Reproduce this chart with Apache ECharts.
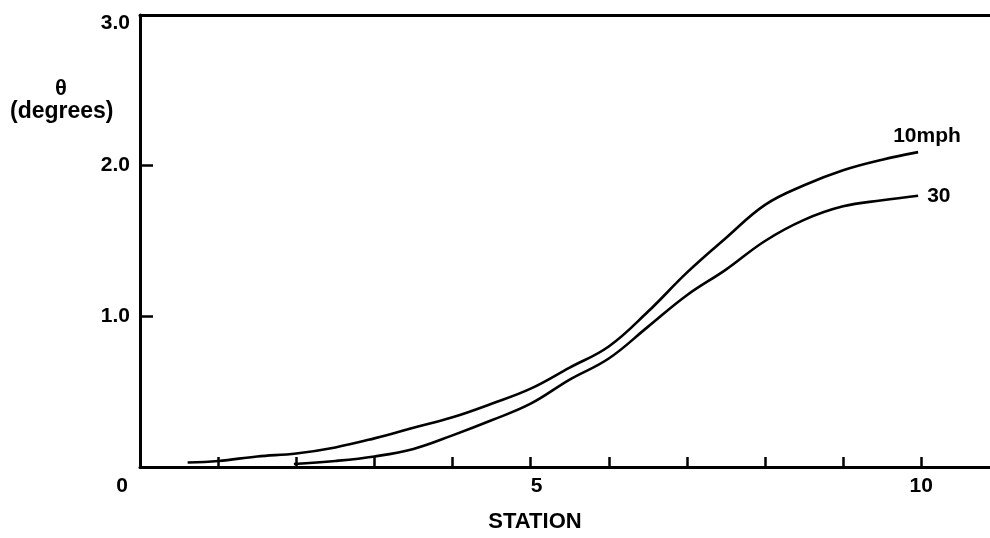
<!DOCTYPE html>
<html>
<head>
<meta charset="utf-8">
<script src="https://cdn.jsdelivr.net/npm/echarts@6/dist/echarts.min.js"></script>
<style>
html,body{margin:0;padding:0;background:#fff;}
#chart{width:990px;height:538px;}
</style>
</head>
<body>
<div id="chart"></div>
<script>
// Data
const seriesNames = ['10mph', '30'];
const stationTicks = [0, 5, 10];
const thetaTicks = ['1.0', '2.0', '3.0'];
const mph10 = [
  [0.61, 0.03], [1, 0.04], [1.5, 0.07], [2, 0.09], [2.5, 0.13], [3, 0.19],
  [3.5, 0.26], [4, 0.33], [4.5, 0.42], [5, 0.52], [5.5, 0.66], [6, 0.80],
  [6.5, 1.03], [7, 1.29], [7.5, 1.52], [8, 1.74], [8.5, 1.87], [9, 1.97],
  [9.5, 2.04], [9.96, 2.09]
];
const mph30 = [
  [1.97, 0.02], [2.5, 0.04], [3, 0.07], [3.5, 0.12], [4, 0.21], [4.5, 0.31],
  [5, 0.42], [5.5, 0.58], [6, 0.72], [6.5, 0.93], [7, 1.14], [7.5, 1.31],
  [8, 1.50], [8.5, 1.64], [9, 1.73], [9.5, 1.77], [9.96, 1.80]
];

const FONT = '"Liberation Sans", Arial, Helvetica, sans-serif';
const chart = echarts.init(document.getElementById('chart'), null, {renderer: 'canvas'});

chart.setOption({
  animation: false,
  backgroundColor: '#fff',
  textStyle: {fontFamily: FONT, color: '#000'},
  grid: {left: 140, right: 0, top: 15, height: 457, containLabel: false},
  xAxis: [{
    type: 'value', min: 0, max: 10.88, interval: 1,
    name: 'STATION', nameLocation: 'middle', nameGap: 44,
    nameTextStyle: {fontFamily: FONT, fontWeight: 'bold', fontSize: 22, color: '#000', padding: [0, 60, 0, 0]},
    axisLine: {show: true, onZero: false, lineStyle: {color: '#000', width: 3}},
    axisTick: {show: true, inside: true, length: 10, lineStyle: {color: '#000', width: 2.5}},
    splitLine: {show: false},
    axisLabel: {
      margin: 9, color: '#000', fontFamily: FONT, fontWeight: 'bold', fontSize: 21,
      showMaxLabel: false,
      formatter: function (v) {
        if (v === stationTicks[0]) return '{z|' + v + '}';
        if (v === stationTicks[1]) return '{f|' + v + '}';
        if (v === stationTicks[2]) return String(v);
        return '';
      },
      rich: {
        z: {fontFamily: FONT, fontWeight: 'bold', fontSize: 21, color: '#000', padding: [0, 36, 0, 0]},
        f: {fontFamily: FONT, fontWeight: 'bold', fontSize: 21, color: '#000', padding: [0, 0, 0, 12]}
      }
    }
  }, {
    type: 'value', position: 'top', min: 0, max: 10.88,
    axisLine: {show: true, onZero: false, lineStyle: {color: '#000', width: 3}},
    axisTick: {show: false}, axisLabel: {show: false}, splitLine: {show: false}
  }],
  yAxis: {
    type: 'value', min: 0, max: 3, interval: 1,
    axisLine: {show: true, onZero: false, lineStyle: {color: '#000', width: 3}},
    axisTick: {show: true, inside: true, length: 13, lineStyle: {color: '#000', width: 2.5}},
    splitLine: {show: false},
    axisLabel: {
      margin: 10, color: '#000', fontFamily: FONT, fontWeight: 'bold', fontSize: 21,
      showMinLabel: false,
      formatter: function (v) {
        const i = Math.round(v) - 1;
        if (i === thetaTicks.length - 1) return '{t|' + thetaTicks[i] + '}';
        return i >= 0 && i < thetaTicks.length ? thetaTicks[i] : '';
      },
      rich: {
        t: {fontFamily: FONT, fontWeight: 'bold', fontSize: 21, color: '#000', padding: [16, 0, 0, 0]}
      }
    }
  },
  graphic: [
    {type: 'text', left: 55, top: 78, style: {text: 'θ', font: 'bold 22px ' + FONT, fill: '#000'}},
    {type: 'text', left: 10, top: 100, style: {text: '(degrees)', font: 'bold 23px ' + FONT, fill: '#000'}}
  ],
  series: [{
    name: seriesNames[0], type: 'line', data: mph10, smooth: 0.4,
    showSymbol: false, symbol: 'none',
    lineStyle: {color: '#000', width: 2.6},
    endLabel: {
      show: true, formatter: '{a}', offset: [-30, -16], distance: 5,
      fontFamily: FONT, fontWeight: 'bold', fontSize: 21, color: '#000'
    }
  }, {
    name: seriesNames[1], type: 'line', data: mph30, smooth: 0.4,
    showSymbol: false, symbol: 'none',
    lineStyle: {color: '#000', width: 2.6},
    endLabel: {
      show: true, formatter: '{a}', distance: 9,
      fontFamily: FONT, fontWeight: 'bold', fontSize: 21, color: '#000'
    }
  }]
});
</script>
</body>
</html>
